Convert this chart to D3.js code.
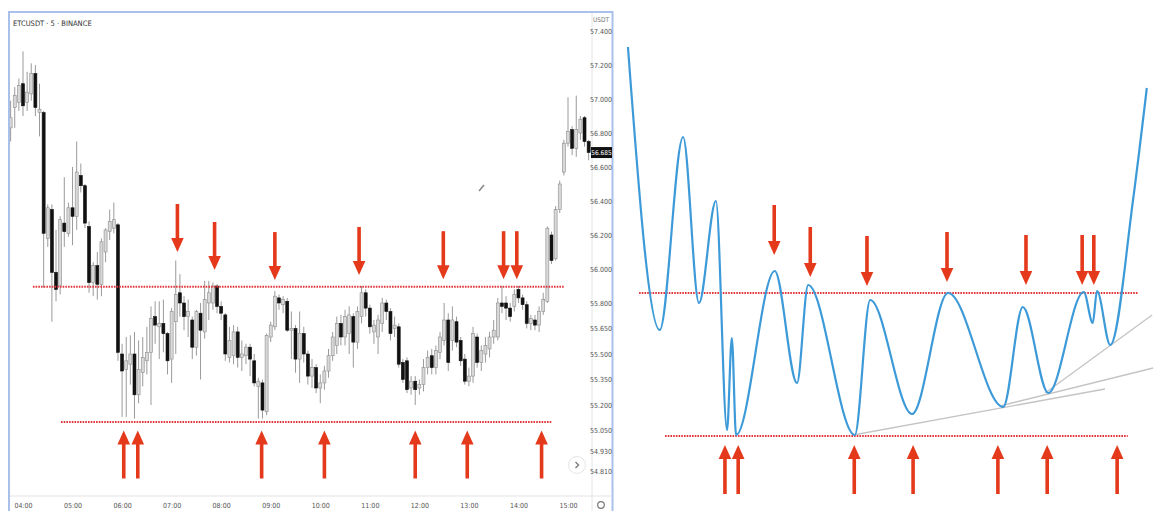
<!DOCTYPE html>
<html><head><meta charset="utf-8">
<script src="https://cdn.jsdelivr.net/npm/d3@7"></script>
<style>
html,body{margin:0;padding:0;background:#fff;}
svg{display:block;}
text{font-family:"Liberation Sans Narrow","DejaVu Sans Condensed","Liberation Sans",sans-serif;}
</style></head><body>
<svg id="chart" width="1155" height="511"></svg>
<script>
// ---------------- LEFT PANEL DATA (ETCUSDT 5m) ----------------
const symbolTitle = "ETCUSDT · 5 · BINANCE";
const quoteLabel = "USDT";
const candleStart = "03:45";
const candleStepMin = 5;
const openP = [
56.83,56.95,56.98,57.09,56.98,57.03,57.15,56.92,56.92,56.18,
56.35,55.98,55.90,56.27,56.21,56.36,56.31,56.55,56.49,56.25,
55.92,56.02,55.91,56.10,56.22,56.24,56.26,55.50,55.41,55.44,
55.50,55.26,55.39,55.46,55.51,55.72,55.66,55.68,55.62,55.47,
55.69,55.86,55.80,55.72,55.70,55.54,55.74,55.63,55.80,55.80,
55.90,55.78,55.73,55.48,55.49,55.63,55.48,55.49,55.54,55.46,
55.31,55.33,55.16,55.60,55.66,55.83,55.79,55.81,55.64,55.65,
55.47,55.62,55.50,55.37,55.42,55.30,55.33,55.40,55.49,55.55,
55.68,55.60,55.62,55.72,55.57,55.72,55.86,55.77,55.63,55.60,
55.68,55.80,55.75,55.65,55.66,55.45,55.46,55.30,55.34,55.30,
55.32,55.42,55.49,55.42,55.51,55.58,55.70,55.58,55.69,55.58,
55.47,55.34,55.37,55.60,55.45,55.50,55.53,55.60,55.60,55.80,
55.80,55.77,55.78,55.88,55.83,55.79,55.68,55.70,55.67,55.75,
55.81,56.20,56.06,56.35,56.57,56.74,56.82,56.71,56.80,56.89,56.75];
const highP = [
56.99,57.07,57.12,57.28,57.16,57.21,57.20,57.09,56.93,56.38,
56.38,56.23,56.31,56.54,56.39,56.60,56.75,56.62,56.50,56.28,
56.04,56.10,56.18,56.24,56.35,56.39,56.27,55.56,55.60,55.61,
55.63,55.58,55.60,55.66,55.78,55.81,55.81,55.82,55.63,55.77,
56.05,55.97,55.84,55.82,55.72,55.76,55.80,55.93,55.93,55.92,
55.91,55.81,55.74,55.66,55.67,55.66,55.58,55.56,55.56,55.50,
55.36,55.35,55.62,55.69,55.87,55.85,55.84,55.83,55.75,55.67,
55.75,55.66,55.52,55.47,55.44,55.38,55.43,55.53,55.63,55.72,
55.73,55.76,55.78,55.74,55.78,55.90,55.88,55.79,55.70,55.73,
55.83,55.82,55.77,55.72,55.68,55.47,55.48,55.37,55.37,55.35,
55.47,55.52,55.53,55.55,55.63,55.80,55.74,55.78,55.72,55.60,
55.50,55.42,55.66,55.62,55.55,55.60,55.63,55.70,55.83,55.90,
55.84,55.80,55.88,55.90,55.85,55.81,55.73,55.73,55.78,55.86,
56.25,56.22,56.37,56.52,56.76,57.01,56.84,57.02,56.90,56.90,56.76];
const lowP = [
56.75,56.83,56.93,56.90,56.93,56.99,56.90,56.78,55.89,56.13,
55.69,55.81,55.85,56.13,56.19,56.14,56.23,56.45,56.24,55.86,
55.84,55.82,55.84,56.04,56.17,56.21,55.46,55.13,55.13,55.32,
55.12,55.21,55.31,55.38,55.20,55.56,55.47,55.51,55.38,55.33,
55.50,55.72,55.64,55.60,55.47,55.49,55.35,55.59,55.70,55.76,
55.74,55.70,55.46,55.45,55.44,55.42,55.40,55.44,55.37,55.31,
55.12,55.12,55.14,55.57,55.64,55.76,55.74,55.63,55.47,55.39,
55.33,55.45,55.32,55.30,55.27,55.21,55.29,55.36,55.46,55.50,
55.55,55.55,55.50,55.42,55.53,55.68,55.72,55.62,55.56,55.50,
55.63,55.70,55.58,55.60,55.42,55.33,55.27,55.26,55.20,55.26,
55.28,55.38,55.38,55.38,55.47,55.55,55.40,55.52,55.54,55.43,
55.32,55.31,55.33,55.42,55.40,55.45,55.48,55.56,55.58,55.74,
55.70,55.69,55.75,55.80,55.76,55.65,55.64,55.64,55.63,55.73,
55.80,56.03,56.05,56.33,56.55,56.72,56.67,56.66,56.76,56.72,56.64];
const closeP = [
56.89,57.02,57.08,56.96,57.04,57.15,56.95,56.94,56.21,56.36,
55.98,55.88,56.29,56.22,56.36,56.31,56.57,56.49,56.27,55.92,
56.02,55.91,56.16,56.23,56.28,56.29,55.51,55.40,55.46,55.50,
55.26,55.41,55.48,55.51,55.71,55.67,55.68,55.62,55.46,55.75,
55.85,55.80,55.72,55.75,55.54,55.75,55.64,55.82,55.86,55.90,
55.78,55.74,55.50,55.58,55.63,55.48,55.50,55.54,55.47,55.33,
55.34,55.17,55.61,55.67,55.84,55.80,55.82,55.64,55.65,55.47,
55.62,55.50,55.37,55.42,55.30,55.33,55.40,55.49,55.60,55.68,
55.60,55.72,55.73,55.57,55.75,55.86,55.77,55.66,55.67,55.70,
55.80,55.75,55.62,55.67,55.44,55.35,55.29,55.34,55.29,55.32,
55.42,55.48,55.42,55.52,55.60,55.70,55.45,55.70,55.57,55.46,
55.34,55.37,55.62,55.45,55.52,55.55,55.60,55.64,55.80,55.78,
55.77,55.72,55.85,55.83,55.79,55.68,55.71,55.67,55.75,55.82,
56.24,56.05,56.35,56.50,56.74,56.81,56.71,56.82,56.88,56.75,56.685];
const priceTicks = [57.4,57.2,57.0,56.8,56.6,56.4,56.2,56.0,55.8,55.65,55.5,55.35,55.2,55.05,54.93,54.81];
const timeTicks = ["04:00","05:00","06:00","07:00","08:00","09:00","10:00","11:00","12:00","13:00","14:00","15:00"];
const lastPrice = 56.685;
const resistanceLevel = 55.895;
const resistanceSpan = ["04:12","14:55"];
const supportLevel = 55.10;
const supportSpan = ["04:46","14:41"];
const leftDownArrowTimes = ["07:07","07:52","09:05","10:47","12:29","13:42","13:58"];
const leftDownArrowTips = [56.10,55.994,55.935,55.965,55.94,55.94,55.94];
const leftUpArrowTimes = ["06:02","06:19","08:49","10:05","11:55","12:58","14:28"];
const leftUpArrowTip = 55.05;

// ---------------- RIGHT PANEL DATA (schematic) ----------------
const curveX = [1.5,7.5,11.9,14.9,18.1,20.2,21.1,21.9,29.2,33.4,35.5,44.3,47.2,55.1,61.9,72.3,76.0,80.8,87.5,89.2,90.0,92.5,96.8,99.4];
const curveY = [90.6,34,72.6,39.4,59.8,14,32.4,13,45.8,23.4,43,13,40,17.2,41.4,18.6,38.6,21.4,41.6,35.4,41.8,31,60,82.4];
const rightResistance = 41.4, rightResistanceSpan = [3.6, 97.7];
const rightSupport = 12.8, rightSupportSpan = [8.5, 95.8];
const rightDownArrowX = [29.1,35.9,46.6,61.7,76.6,87.2,89.4];
const rightDownArrowTips = [49,44.6,42.8,43.6,43,43,43];
const rightUpArrowX = [19.8,22.3,44.2,55.3,71.3,80.6,93.8];
const rightUpArrowTip = 11;
const trendLines = [
  [[44,13],[91.5,22.2]],
  [[71.7,18.8],[100.6,26.4]],
  [[80.2,21.4],[100.4,37]]
];

// ---------------- DRAW ----------------
const svg = d3.select("#chart");
const RED = "#e5391c";
const parseT = d3.timeParse("%H:%M");
const axisFont = '"Liberation Sans Narrow","DejaVu Sans Condensed",sans-serif';

// left scales
const x = d3.scaleTime().domain([parseT("04:00"), parseT("15:00")]).range([23, 568]);
const y = d3.scaleLinear().domain([56, 57]).range([269, 99]);

const left = svg.append("g");
left.append("rect").attr("x",9).attr("y",12).attr("width",603.5).attr("height",510)
  .attr("fill","#fff").attr("stroke","#a9c1ea").attr("stroke-width",2);
left.append("line").attr("x1",592).attr("x2",592).attr("y1",13).attr("y2",511).attr("stroke","#e4e4e4");
left.append("line").attr("x1",10).attr("x2",611).attr("y1",496).attr("y2",496).attr("stroke","#e4e4e4");

svg.append("defs").append("clipPath").attr("id","plotclip")
  .append("rect").attr("x",10).attr("y",13).attr("width",582).attr("height",483);
const plot = left.append("g").attr("clip-path","url(#plotclip)");

left.append("text").attr("x",13).attr("y",26).attr("font-size",7.5).attr("fill","#333").text(symbolTitle);

const t0 = parseT(candleStart);
const candles = closeP.map((c,i)=>({t:new Date(+t0 + i*candleStepMin*60000), o:openP[i], h:highP[i], l:lowP[i], c:c}));
plot.selectAll("line.wick").data(candles).join("line").attr("class","wick")
  .attr("x1",d=>x(d.t)).attr("x2",d=>x(d.t)).attr("y1",d=>y(d.h)).attr("y2",d=>y(d.l))
  .attr("stroke","#9a9a9a").attr("stroke-width",1);
plot.selectAll("rect.body").data(candles).join("rect").attr("class","body")
  .attr("x",d=>x(d.t)-1.5).attr("width",3)
  .attr("y",d=>y(Math.max(d.o,d.c)))
  .attr("height",d=>Math.max(1,Math.abs(y(d.o)-y(d.c))))
  .attr("fill",d=>d.c>=d.o?"#d8d8d8":"#111")
  .attr("stroke",d=>d.c>=d.o?"#8e8e8e":"#111").attr("stroke-width",0.6);

// price axis
const yAxis = d3.axisRight(y).tickValues(priceTicks).tickFormat(d3.format(".3f")).tickSize(0).tickPadding(0);
const ya = left.append("g").attr("transform","translate(601,0)").call(yAxis);
ya.select(".domain").remove();
ya.selectAll("text").attr("text-anchor","middle").attr("font-size",7).attr("fill","#555").attr("font-family",axisFont);
left.append("text").attr("x",601).attr("y",22).attr("text-anchor","middle").attr("font-size",6.5).attr("fill","#777").text(quoteLabel);
left.append("rect").attr("x",591).attr("y",y(lastPrice)-5.5).attr("width",21).attr("height",11).attr("fill","#111");
left.append("text").attr("x",601.5).attr("y",y(lastPrice)+2.4).attr("text-anchor","middle").attr("font-size",6.5)
  .attr("font-family",axisFont).attr("fill","#fff").text(d3.format(".3f")(lastPrice));

// time axis
const xAxis = d3.axisBottom(x).tickValues(timeTicks.map(parseT)).tickFormat(d3.timeFormat("%H:%M")).tickSize(0).tickPadding(0);
const xa = left.append("g").attr("transform","translate(0,503)").call(xAxis);
xa.select(".domain").remove();
xa.selectAll("text").attr("font-size",7).attr("fill","#555").attr("font-family",axisFont);

// icons
left.append("circle").attr("cx",601).attr("cy",505).attr("r",3.3).attr("fill","none").attr("stroke","#777").attr("stroke-width",1.2);
left.append("circle").attr("cx",577).attr("cy",465).attr("r",8.5).attr("fill","#fff").attr("stroke","#e6e6e6");
left.append("path").attr("d","M575.5,462L578.5,465L575.5,468").attr("fill","none").attr("stroke","#777").attr("stroke-width",1.3);
left.append("line").attr("x1",479).attr("y1",191).attr("x2",484).attr("y2",185).attr("stroke","#888").attr("stroke-width",1.5);

// dotted levels
function dotted(g,x1,x2,yv){
  g.append("line").attr("x1",x1).attr("x2",x2).attr("y1",yv).attr("y2",yv)
   .attr("stroke","#e1353a").attr("stroke-width",2).attr("stroke-dasharray","1.6 1.1");
}
dotted(left, x(parseT(resistanceSpan[0])), x(parseT(resistanceSpan[1])), y(resistanceLevel));
dotted(left, x(parseT(supportSpan[0])), x(parseT(supportSpan[1])), y(supportLevel));

function arrow(g,xp,yTip,dir,len){
  const headH=14, headW=6.3;
  const yBase = yTip - dir*headH;
  g.append("line").attr("x1",xp).attr("x2",xp).attr("y1",yTip-dir*len).attr("y2",yBase+dir*2)
   .attr("stroke",RED).attr("stroke-width",3.6);
  g.append("path").attr("d",`M${xp-headW},${yBase}L${xp+headW},${yBase}L${xp},${yTip}Z`).attr("fill",RED);
}
leftDownArrowTimes.forEach((t,i)=>arrow(left, x(parseT(t)), y(leftDownArrowTips[i]), 1, 48));
leftUpArrowTimes.forEach(t=>arrow(left, x(parseT(t)), y(leftUpArrowTip), -1, 48));

// ---------------- RIGHT PANEL ----------------
const xR = d3.scaleLinear().domain([0,100]).range([620,1150]);
const yR = d3.scaleLinear().domain([0,100]).range([500,0]);
const right = svg.append("g");
trendLines.forEach(l=>{
  right.append("line").attr("x1",xR(l[0][0])).attr("y1",yR(l[0][1])).attr("x2",xR(l[1][0])).attr("y2",yR(l[1][1]))
    .attr("stroke","#c4c4c4").attr("stroke-width",1.3);
});
dotted(right, xR(rightResistanceSpan[0]), xR(rightResistanceSpan[1]), yR(rightResistance));
dotted(right, xR(rightSupportSpan[0]), xR(rightSupportSpan[1]), yR(rightSupport));
const pts = curveX.map((v,i)=>[v,curveY[i]]);
right.append("path").attr("d", d3.line().x(d=>xR(d[0])).y(d=>yR(d[1])).curve(d3.curveMonotoneX)(pts))
  .attr("fill","none").attr("stroke","#3d9ad8").attr("stroke-width",2.2);
rightDownArrowX.forEach((v,i)=>arrow(right, xR(v), yR(rightDownArrowTips[i]), 1, 50));
rightUpArrowX.forEach(v=>arrow(right, xR(v), yR(rightUpArrowTip), -1, 49));
</script>
</body></html>
